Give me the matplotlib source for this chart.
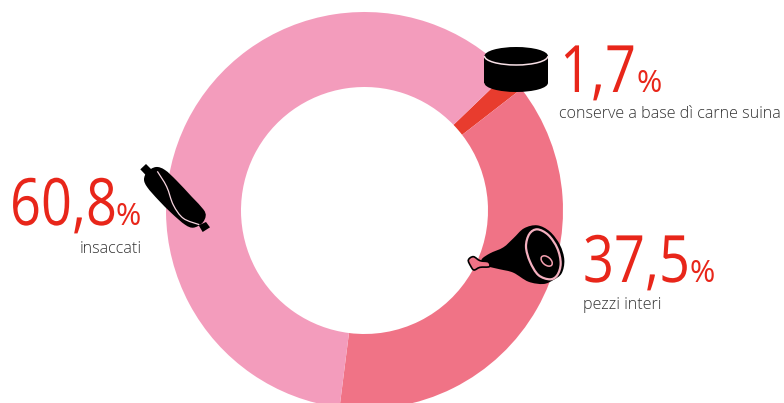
import matplotlib
matplotlib.use("Agg")
import matplotlib.pyplot as plt
from matplotlib.patches import Ellipse, PathPatch, Polygon, Rectangle, Arc
from matplotlib.patheffects import AbstractPathEffect
from matplotlib.path import Path
from matplotlib.text import Text
from matplotlib.transforms import Affine2D, Bbox
import numpy as np

W, H = 784, 403

# shares, clockwise from the small slice
categories = ["conserve a base dì carne suina", "pezzi interi", "insaccati"]
values = [1.7, 37.5, 60.8]
value_labels = ["1,7", "37,5", "60,8"]
colors = ["#E83C2E", "#F07386", "#F39CBC"]

RED = "#E8261A"
GREY = "#333333"
plt.rcParams["font.family"] = ["Open Sans", "DejaVu Sans"]


class Condensed(AbstractPathEffect):
    # narrows glyphs around x0 (display pixels), there is no condensed face installed
    def __init__(self, x0, factor):
        super().__init__()
        self.shrink = Affine2D().translate(-x0, 0).scale(factor, 1).translate(x0, 0)

    def draw_path(self, renderer, gc, tpath, affine, rgbFace=None):
        renderer.draw_path(gc, tpath, affine + self.shrink, rgbFace)


class CondensedText(Text):
    # keeps the reported extent in step with the narrowed glyphs
    factor = 0.83

    def get_window_extent(self, renderer=None, dpi=None):
        box = super().get_window_extent(renderer, dpi)
        return Bbox.from_extents(box.x0, box.y0, box.x0 + box.width * self.factor, box.y1)


fig = plt.figure(figsize=(W / 100, H / 100), dpi=100)
ax = fig.add_axes([0, 0, 1, 1])

# donut, radius in pixels
cx, cy = 364.5, 210.5
ax.pie(values, colors=colors, startangle=90 - 46.1, counterclock=False,
       center=(cx, H - cy), radius=198.5, frame=True,
       wedgeprops={"width": 75, "linewidth": 0})
ax.set_xlim(0, W)
ax.set_ylim(0, H)
ax.axis("off")


def py(y):
    return H - y


def smooth(points, closed=True):
    # closed catmull-rom through the points, as cubic beziers
    p = np.array(points, dtype=float)
    n = len(p)
    verts = [p[0]]
    codes = [Path.MOVETO]
    for i in range(n if closed else n - 1):
        p0 = p[(i - 1) % n] if closed or i > 0 else p[i]
        p1 = p[i]
        p2 = p[(i + 1) % n]
        p3 = p[(i + 2) % n] if closed or i + 2 < n else p2
        verts += [p1 + (p2 - p0) / 6, p2 - (p3 - p1) / 6, p2]
        codes += [Path.CURVE4] * 3
    return Path(verts, codes)


def zoomed(points, x0, y0):
    return [(x0 + x / 3, py(y0 + y / 3)) for x, y in points]


# tin
ax.add_patch(Rectangle((484.5, py(83)), 63.5, 27, fc="black", ec="none", zorder=3))
ax.add_patch(Ellipse((516.2, py(83)), 63.5, 18, fc="black", ec="none", zorder=3))
ax.add_patch(Ellipse((516.2, py(56)), 63.5, 18, fc="black", ec="none", zorder=3))
ax.add_patch(Arc((516.2, py(56)), 63.5, 18, theta1=180, theta2=360, color="#F8E0E6", lw=1.1, zorder=4))

# sausage
sausage = [(432, 88), (442, 65), (468, 51), (495, 60), (530, 92), (575, 140), (610, 178), (617, 198),
           (606, 220), (580, 233), (555, 224), (515, 190), (475, 150), (442, 112)]
ax.add_patch(PathPatch(smooth(zoomed(sausage, 0, 150)), fc="black", ec="none", zorder=3))
ax.add_patch(Polygon(zoomed([(421, 58), (438, 42), (456, 60), (438, 76)], 0, 150), fc="black", ec="none", zorder=3))
ax.add_patch(Polygon(zoomed([(596, 226), (618, 216), (630, 232), (608, 246)], 0, 150), fc="black", ec="none", zorder=3))
seam = [(472, 64), (500, 110), (520, 165), (550, 205), (598, 224)]
ax.add_patch(PathPatch(smooth(zoomed(seam, 0, 150), closed=False), fc="none", ec="#F8D5E0", lw=0.9, zorder=4))

# ham
ham = [(95, 148), (120, 130), (160, 112), (190, 85), (222, 55), (262, 46), (300, 65), (330, 105), (343, 150),
       (335, 190), (310, 210), (280, 222), (235, 215), (190, 188), (150, 178), (115, 170), (100, 165)]
ax.add_patch(PathPatch(smooth(zoomed(ham, 450, 210)), fc="black", ec="none", zorder=3))
bone = [(55, 150), (70, 140), (90, 152), (115, 156), (118, 170), (90, 172), (72, 180), (62, 168)]
ax.add_patch(PathPatch(smooth(zoomed(bone, 450, 210)), fc="#F07386", ec="black", lw=1.2, zorder=4))
ring = [(238, 72), (262, 58), (295, 75), (322, 115), (332, 160), (322, 195), (300, 208), (265, 195),
        (240, 155), (228, 110)]
ax.add_patch(PathPatch(smooth(zoomed(ring, 450, 210)), fc="none", ec="#F5B0C0", lw=1.6, zorder=4))
ax.add_patch(Ellipse((450 + 290 / 3, py(210 + 153 / 3)), 13, 8, angle=-40, fc="black", ec="#F5A0B0", lw=1.1, zorder=5))

# big numbers, percent signs and captions
label_pos = [(560, 92, 637, 559, 118), (583, 282, 690, 583, 309), (10, 225, 116, 80, 253)]
for label, cat, (nx, ny, px, tx, ty) in zip(value_labels, categories, label_pos):
    ax.add_artist(CondensedText(nx, py(ny), label, color=RED, fontsize=47, va="baseline", ha="left", zorder=6,
                                path_effects=[Condensed(nx, CondensedText.factor)]))
    ax.text(px, py(ny), "%", color=RED, fontsize=22, va="baseline", ha="left", zorder=6)
    ax.text(tx, py(ty), cat, color=GREY, fontsize=11.6, va="baseline", ha="left", fontweight="light", zorder=6)

fig.savefig("out.png", dpi=100, facecolor="white")
